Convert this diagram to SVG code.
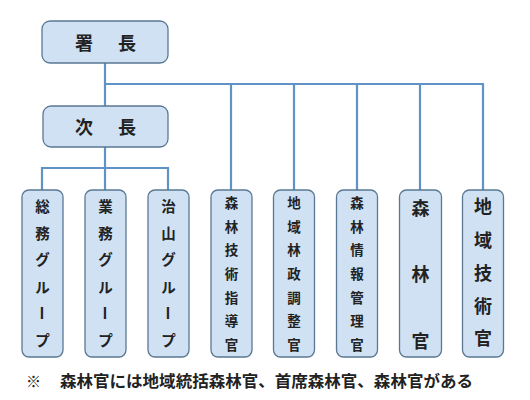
<svg xmlns="http://www.w3.org/2000/svg" width="530" height="400" viewBox="0 0 530 400">
<style>
.box{fill:#cfe1f2;stroke:#5a7894;stroke-width:1.3}
.ln{stroke:#5f93c6;stroke-width:2.2;fill:none}
text{font-family:"Noto Sans CJK JP","Noto Sans CJK SC",sans-serif;font-weight:bold;fill:#222;text-anchor:middle;dominant-baseline:central}
.s{font-size:13.5px}
.m{font-size:14.5px}
.l{font-size:18px}
.h{font-size:18px}
.f{font-size:16px;text-anchor:start}
</style>
<rect width="530" height="400" fill="#fff"/>
<g id="connectors">
<path class="ln" d="M105 63V106M105 84H483V190M231 84V190M294 84V190M357 84V190M420 84V190"/>
<path class="ln" d="M105 147V168M42 190V168H168V190M105 168V190"/>
</g>
<g id="shocho"><rect class="box" x="42" y="21" width="126" height="42" rx="8"/><text class="h" x="84" y="42">署</text><text class="h" x="127" y="42">長</text></g>
<g id="jicho"><rect class="box" x="43" y="106" width="125" height="41" rx="8"/><text class="h" x="84" y="126">次</text><text class="h" x="127" y="126">長</text></g>
<g id="somu"><rect class="box" x="22" y="190" width="41" height="167" rx="7"/>
<text class="m" x="42.5" y="205">総</text><text class="m" x="42.5" y="232">務</text><text class="m" x="42.5" y="258">グ</text><text class="m" x="42.5" y="286">ル</text><text class="m" x="42.5" y="313" transform="rotate(90 42.5 313)">ー</text><text class="m" x="42.5" y="339">プ</text></g>
<g id="gyomu"><rect class="box" x="85" y="190" width="41" height="167" rx="7"/>
<text class="m" x="105.5" y="205">業</text><text class="m" x="105.5" y="232">務</text><text class="m" x="105.5" y="258">グ</text><text class="m" x="105.5" y="286">ル</text><text class="m" x="105.5" y="313" transform="rotate(90 105.5 313)">ー</text><text class="m" x="105.5" y="339">プ</text></g>
<g id="chisan"><rect class="box" x="148" y="190" width="41" height="167" rx="7"/>
<text class="m" x="168.5" y="205">治</text><text class="m" x="168.5" y="232">山</text><text class="m" x="168.5" y="258">グ</text><text class="m" x="168.5" y="286">ル</text><text class="m" x="168.5" y="313" transform="rotate(90 168.5 313)">ー</text><text class="m" x="168.5" y="339">プ</text></g>
<g id="gijutsu"><rect class="box" x="211" y="190" width="41" height="167" rx="7"/>
<text class="s" x="231.5" y="202">森</text><text class="s" x="231.5" y="225.5">林</text><text class="s" x="231.5" y="249">技</text><text class="s" x="231.5" y="273">術</text><text class="s" x="231.5" y="297">指</text><text class="s" x="231.5" y="320">導</text><text class="s" x="231.5" y="344">官</text></g>
<g id="chiiki"><rect class="box" x="273.5" y="190" width="41" height="167" rx="7"/>
<text class="s" x="294" y="202">地</text><text class="s" x="294" y="225.5">域</text><text class="s" x="294" y="249">林</text><text class="s" x="294" y="273">政</text><text class="s" x="294" y="297">調</text><text class="s" x="294" y="320">整</text><text class="s" x="294" y="344">官</text></g>
<g id="joho"><rect class="box" x="336.5" y="190" width="41" height="167" rx="7"/>
<text class="s" x="357" y="202">森</text><text class="s" x="357" y="225.5">林</text><text class="s" x="357" y="249">情</text><text class="s" x="357" y="273">報</text><text class="s" x="357" y="297">管</text><text class="s" x="357" y="320">理</text><text class="s" x="357" y="344">官</text></g>
<g id="shinrinkan"><rect class="box" x="399.5" y="190" width="42" height="167" rx="7"/>
<text class="l" x="420.5" y="207">森</text><text class="l" x="420.5" y="273">林</text><text class="l" x="420.5" y="340">官</text></g>
<g id="chiikigijutsu"><rect class="box" x="462.5" y="190" width="41" height="167" rx="7"/>
<text class="l" x="483" y="205">地</text><text class="l" x="483" y="239">域</text><text class="l" x="483" y="272">技</text><text class="l" x="483" y="305">術</text><text class="l" x="483" y="337">官</text></g>
<g id="note">
<text x="26" y="380" style="font-size:15px;font-weight:normal;text-anchor:start">※</text>
<text class="f" x="60" y="380" textLength="413" lengthAdjust="spacingAndGlyphs">森林官には地域統括森林官、首席森林官、森林官がある</text>
</g>
</svg>
